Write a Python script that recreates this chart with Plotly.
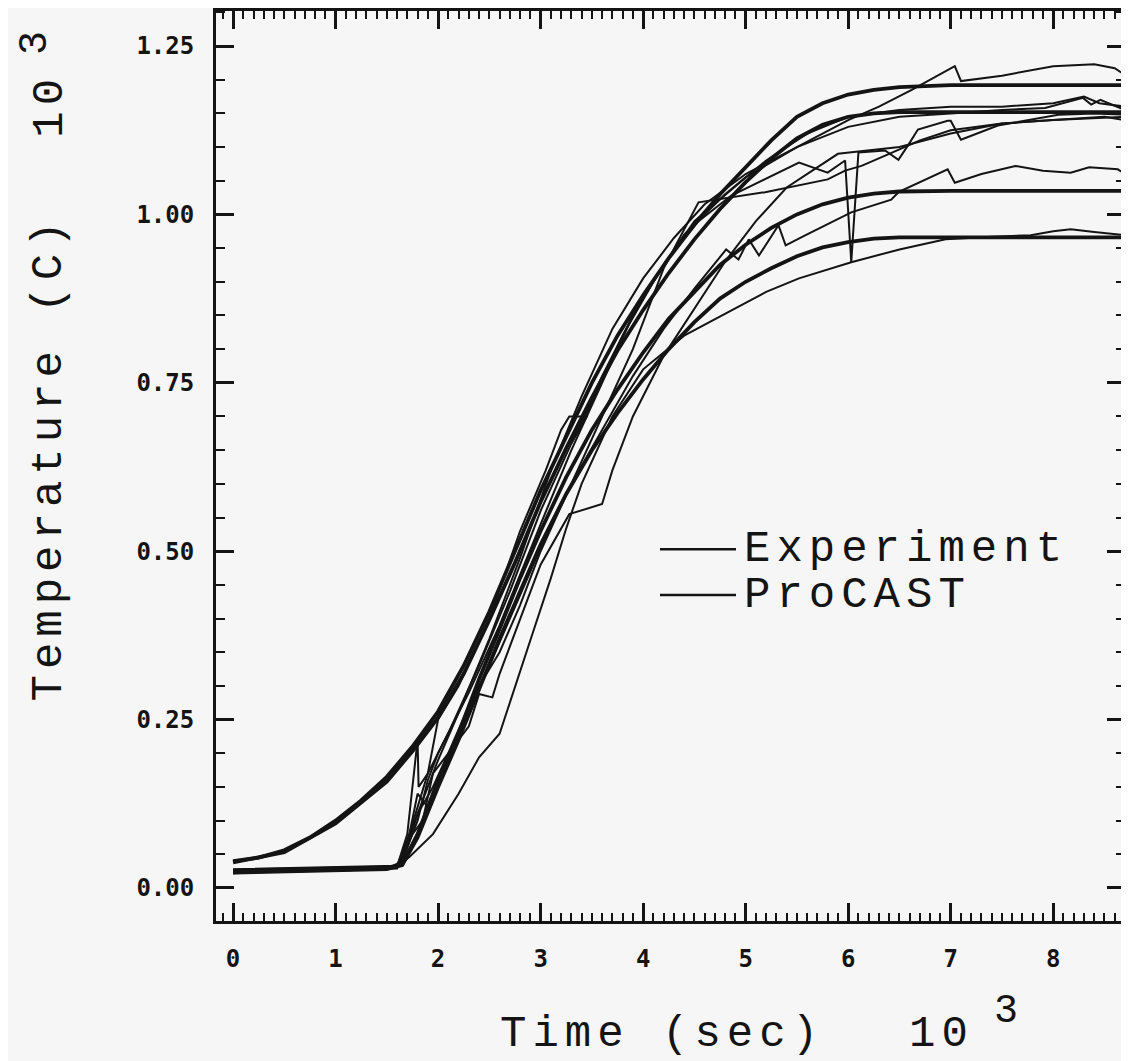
import plotly.graph_objects as go

# ---------------- data (time in 10^3 s, temperature in 10^3 C) ----------------
# ProCAST simulations
pc1_t = [0, 0.25, 0.5, 0.75, 1.0, 1.25, 1.5, 1.75, 2.0, 2.25, 2.5, 2.75, 3.0, 3.25, 3.5, 3.75, 4.0, 4.25, 4.5, 4.75, 5.0, 5.25, 5.5, 5.75, 6.0, 6.25, 6.5, 7.0, 8.7]
pc1_T = [0.040, 0.045, 0.056, 0.075, 0.100, 0.130, 0.165, 0.210, 0.262, 0.330, 0.410, 0.500, 0.590, 0.670, 0.750, 0.820, 0.880, 0.935, 0.985, 1.030, 1.070, 1.110, 1.145, 1.165, 1.178, 1.185, 1.189, 1.192, 1.192]

pc2_t = [0, 0.5, 1.0, 1.5, 1.75, 2.0, 2.25, 2.5, 2.75, 3.0, 3.25, 3.5, 3.75, 4.0, 4.25, 4.5, 4.75, 5.0, 5.25, 5.5, 5.75, 6.0, 6.25, 6.5, 8.7]
pc2_T = [0.038, 0.053, 0.096, 0.158, 0.203, 0.253, 0.318, 0.398, 0.483, 0.573, 0.653, 0.728, 0.798, 0.858, 0.913, 0.963, 1.008, 1.048, 1.083, 1.113, 1.133, 1.145, 1.150, 1.152, 1.152]

pc3_t = [0, 1.0, 1.5, 1.65, 1.8, 2.0, 2.2, 2.4, 2.6, 2.8, 3.0, 3.25, 3.5, 3.75, 4.0, 4.25, 4.5, 4.75, 5.0, 5.25, 5.5, 5.75, 6.0, 6.25, 6.5, 7.0, 8.7]
pc3_T = [0.025, 0.027, 0.030, 0.035, 0.080, 0.160, 0.230, 0.310, 0.385, 0.460, 0.530, 0.610, 0.680, 0.740, 0.795, 0.845, 0.885, 0.925, 0.955, 0.980, 1.000, 1.015, 1.025, 1.031, 1.034, 1.035, 1.035]

pc4_t = [0, 1.5, 1.65, 1.8, 2.0, 2.2, 2.4, 2.6, 2.8, 3.0, 3.25, 3.5, 3.75, 4.0, 4.25, 4.5, 4.75, 5.0, 5.25, 5.5, 5.75, 6.0, 6.25, 6.5, 8.7]
pc4_T = [0.023, 0.028, 0.034, 0.075, 0.150, 0.220, 0.295, 0.370, 0.440, 0.510, 0.585, 0.650, 0.705, 0.755, 0.800, 0.840, 0.875, 0.900, 0.920, 0.938, 0.951, 0.959, 0.964, 0.966, 0.966]

# Thermocouple measurements
ex1_t = [0, 1.55, 1.65, 1.75, 1.85, 2.0, 2.2, 2.5, 2.8, 3.1, 3.4, 3.7, 4.0, 4.3, 4.6, 5.0, 5.5, 6.0, 6.3, 6.62, 7.04, 7.1, 7.5, 8.0, 8.4, 8.6, 8.7]
ex1_T = [0.027, 0.032, 0.040, 0.090, 0.130, 0.190, 0.260, 0.370, 0.490, 0.620, 0.730, 0.830, 0.905, 0.965, 1.015, 1.060, 1.100, 1.140, 1.160, 1.185, 1.220, 1.198, 1.206, 1.220, 1.223, 1.217, 1.207]

ex2_t = [0, 1.6, 1.7, 1.8, 1.9, 2.1, 2.4, 2.7, 3.0, 3.3, 3.6, 4.0, 4.5, 5.0, 5.5, 6.0, 6.5, 7.0, 7.5, 7.92, 8.1, 8.29, 8.37, 8.46, 8.7]
ex2_T = [0.024, 0.030, 0.070, 0.120, 0.170, 0.230, 0.330, 0.440, 0.560, 0.660, 0.760, 0.880, 0.990, 1.055, 1.100, 1.130, 1.145, 1.150, 1.155, 1.158, 1.165, 1.173, 1.163, 1.170, 1.155]

ex3_t = [0, 1.6, 1.7, 1.8, 1.9, 2.0, 2.3, 2.6, 3.0, 3.3, 3.6, 3.9, 4.22, 4.54, 4.86, 5.19, 5.52, 5.8, 5.97, 6.03, 6.1, 6.36, 6.49, 6.59, 6.68, 6.97, 7.0, 7.1, 7.46, 8.05, 8.4, 8.7]
ex3_T = [0.026, 0.031, 0.060, 0.100, 0.160, 0.200, 0.290, 0.390, 0.540, 0.650, 0.750, 0.850, 0.930, 0.990, 1.028, 1.052, 1.077, 1.062, 1.080, 0.929, 1.092, 1.095, 1.081, 1.104, 1.126, 1.139, 1.139, 1.111, 1.132, 1.148, 1.150, 1.148]

ex4_t = [0, 1.6, 1.68, 1.8, 1.95, 2.1, 2.3, 2.5, 2.7, 2.9, 3.1, 3.3, 3.6, 3.9, 4.2, 4.5, 4.81, 4.93, 5.03, 5.13, 5.32, 5.39, 5.58, 5.84, 6.03, 6.42, 6.49, 6.97, 7.04, 7.3, 7.63, 7.9, 8.17, 8.35, 8.63, 8.7]
ex4_T = [0.022, 0.029, 0.050, 0.110, 0.150, 0.200, 0.270, 0.330, 0.400, 0.470, 0.540, 0.600, 0.680, 0.760, 0.830, 0.890, 0.948, 0.933, 0.963, 0.939, 0.984, 0.954, 0.969, 0.988, 1.003, 1.022, 1.033, 1.067, 1.047, 1.060, 1.072, 1.065, 1.062, 1.070, 1.067, 1.060]

ex5_t = [0, 1.6, 1.72, 1.95, 2.2, 2.4, 2.6, 2.75, 2.92, 3.1, 3.25, 3.4, 3.7, 4.0, 4.4, 4.83, 5.2, 5.52, 6.03, 6.5, 6.95, 7.4, 7.78, 8.0, 8.17, 8.4, 8.7]
ex5_T = [0.025, 0.031, 0.046, 0.080, 0.140, 0.194, 0.229, 0.300, 0.377, 0.460, 0.534, 0.600, 0.700, 0.770, 0.820, 0.855, 0.885, 0.905, 0.929, 0.948, 0.963, 0.967, 0.969, 0.975, 0.978, 0.974, 0.969]

ex6_t = [0, 1.6, 1.72, 1.8, 1.9, 2.0, 2.2, 2.4, 2.6, 2.8, 3.0, 3.3, 3.6, 3.9, 4.2, 4.54, 5.19, 5.8, 5.97, 6.13, 6.4, 6.7, 7.0, 7.5, 8.0, 8.5, 8.7]
ex6_T = [0.028, 0.033, 0.080, 0.140, 0.120, 0.150, 0.220, 0.300, 0.350, 0.420, 0.500, 0.600, 0.700, 0.800, 0.920, 1.018, 1.033, 1.052, 1.065, 1.072, 1.090, 1.110, 1.125, 1.135, 1.140, 1.145, 1.140]

ex7_t = [0, 1.6, 1.65, 1.75, 1.85, 1.95, 2.1, 2.3, 2.4, 2.53, 2.6, 2.8, 3.0, 3.28, 3.6, 3.7, 3.9, 4.2, 4.5, 4.8, 5.1, 5.4, 5.9, 6.5, 7.0, 7.5, 8.0, 8.7]
ex7_T = [0.023, 0.030, 0.050, 0.080, 0.100, 0.170, 0.200, 0.240, 0.288, 0.283, 0.318, 0.400, 0.480, 0.555, 0.570, 0.620, 0.700, 0.790, 0.860, 0.930, 0.990, 1.040, 1.090, 1.100, 1.120, 1.135, 1.140, 1.145]

ex8_t = [0, 1.6, 1.7, 1.8, 1.81, 1.9, 2.0, 2.2, 2.5, 2.8, 3.05, 3.2, 3.28, 3.45, 3.3, 3.5, 3.8, 4.1, 4.4, 4.8, 5.2, 5.6, 6.0, 6.5, 7.0, 7.5, 8.0, 8.3, 8.45, 8.7]
ex8_T = [0.026, 0.032, 0.080, 0.220, 0.150, 0.170, 0.250, 0.300, 0.400, 0.530, 0.620, 0.680, 0.700, 0.700, 0.660, 0.720, 0.820, 0.900, 0.970, 1.030, 1.080, 1.120, 1.145, 1.155, 1.160, 1.160, 1.165, 1.175, 1.165, 1.160]

procast = [(pc1_t, pc1_T), (pc2_t, pc2_T), (pc3_t, pc3_T), (pc4_t, pc4_T)]
experiments = [(ex1_t, ex1_T), (ex2_t, ex2_T), (ex3_t, ex3_T), (ex4_t, ex4_T),
               (ex5_t, ex5_T), (ex6_t, ex6_T), (ex7_t, ex7_T), (ex8_t, ex8_T)]

x_ticks = [0, 1, 2, 3, 4, 5, 6, 7, 8]
y_ticks = [0.00, 0.25, 0.50, 0.75, 1.00, 1.25]
legend_labels = ["Experiment", "ProCAST"]

# ---------------- figure ----------------
OFF = 8                      # the page body adds an 8px margin
W, H = 1129 - OFF, 1061 - OFF
ML, MT = 216 - OFF, 8 - OFF
MB = H - (921 - OFF)
MR = W - (1125 - OFF)
PW, PH = W - ML - MR, H - MT - MB
INK = "#141414"
BG = "#f6f6f6"
TITLE_FONT = "Liberation Mono, DejaVu Sans Mono, monospace"
TICK_FONT = "DejaVu Sans Mono, monospace"


def px(x):
    # reference-picture pixel -> paper coordinate
    return (x - OFF - ML) / PW


def py(y):
    return (MT + PH - (y - OFF)) / PH


def spaced(s, sp):
    return f'<span style="letter-spacing:{sp}px">{s}</span>'


fig = go.Figure()
for t, T in experiments:
    fig.add_trace(go.Scatter(x=t, y=T, mode="lines", name=legend_labels[0],
                             line=dict(color=INK, width=2.0), showlegend=False,
                             hoverinfo="skip"))
for t, T in procast:
    fig.add_trace(go.Scatter(x=t, y=T, mode="lines", name=legend_labels[1],
                             line=dict(color=INK, width=3.8), showlegend=False,
                             hoverinfo="skip"))

axis_common = dict(
    showgrid=False, zeroline=False, showline=True, linecolor=INK, linewidth=3,
    mirror="allticks", ticks="inside", tickcolor=INK, tickwidth=2.5, ticklen=18,
    tickfont=dict(family=TICK_FONT, size=24, color=INK, weight="bold"),
)

fig.update_xaxes(
    **axis_common, range=[-0.166, 8.70], tickvals=x_ticks,
    ticktext=[str(v) for v in x_ticks], ticklabelstandoff=14,
    minor=dict(dtick=0.1, tick0=0, ticks="inside", ticklen=8, tickwidth=2, tickcolor=INK),
)
fig.update_yaxes(
    **axis_common, range=[-0.049, 1.302], tickvals=y_ticks,
    ticktext=[f"{v:.2f}" for v in y_ticks], ticklabelstandoff=14,
    minor=dict(dtick=0.05, tick0=0, ticks="inside", ticklen=9, tickwidth=2, tickcolor=INK),
)

annots = []
tf = dict(family=TITLE_FONT, size=44, color=INK)
tf_sup = dict(family=TITLE_FONT, size=40, color=INK)
# x-axis title
annots.append(dict(text=spaced("Time (sec)", 6), x=px(662), y=py(1034), xref="paper", yref="paper",
                   showarrow=False, xanchor="center", yanchor="middle", font=tf))
annots.append(dict(text=spaced("10", 6), x=px(941), y=py(1034), xref="paper", yref="paper",
                   showarrow=False, xanchor="center", yanchor="middle", font=tf))
annots.append(dict(text="3", x=px(1006), y=py(1012), xref="paper", yref="paper",
                   showarrow=False, xanchor="center", yanchor="middle", font=tf_sup))
# y-axis title
annots.append(dict(text=spaced("Temperature (C)", 6), x=px(49), y=py(457), xref="paper", yref="paper",
                   showarrow=False, xanchor="center", yanchor="middle", textangle=-90, font=tf))
annots.append(dict(text=spaced("10", 6), x=px(50), y=py(103), xref="paper", yref="paper",
                   showarrow=False, xanchor="center", yanchor="middle", textangle=-90, font=tf))
annots.append(dict(text="3", x=px(36), y=py(40), xref="paper", yref="paper",
                   showarrow=False, xanchor="center", yanchor="middle", textangle=-90, font=tf_sup))
# legend
shapes = []
for lab, ly in zip(legend_labels, [548, 594]):
    shapes.append(dict(type="line", xref="paper", yref="paper", x0=px(660), x1=px(736),
                       y0=py(ly), y1=py(ly), line=dict(color=INK, width=2.4)))
    annots.append(dict(text=spaced(lab, 6), x=px(742), y=py(ly), xref="paper", yref="paper",
                       showarrow=False, xanchor="left", yanchor="middle", font=tf))

fig.update_layout(
    width=W, height=H, margin=dict(l=ML, r=MR, t=MT, b=MB),
    paper_bgcolor=BG, plot_bgcolor=BG, showlegend=False,
    annotations=annots, shapes=shapes,
)

fig.write_html("out.html")
